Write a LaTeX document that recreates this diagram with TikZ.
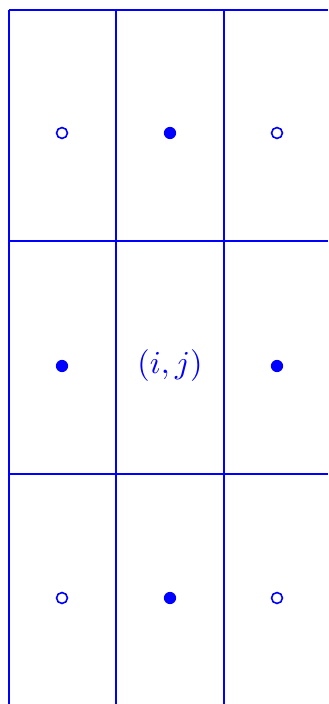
\documentclass[tikz,border=0pt]{standalone}
\usepackage{tikz}
\tikzset{
  gridline/.style={blue, line width=0.8pt},
  filleddot/.style={circle, fill=blue, inner sep=0pt, minimum size=0.135cm},
  opendot/.style={circle, draw=blue, line width=0.5pt, fill=white, inner sep=0pt, minimum size=0.12cm}
}

\begin{document}
\begin{tikzpicture}[x=0.011cm, y=-0.011cm]
    \useasboundingbox (0,0) rectangle (328,704);

    % grid (clipped at right and bottom)
    \foreach \gx in {9,116,224}{
        \draw[gridline] (\gx,10) -- (\gx,704);
    }
    \foreach \gy in {10,241,474}{
        \draw[gridline] (9,\gy) -- (328,\gy);
    }

    % neighbour points
    \node[opendot]   (nw) at (62,133)  {};
    \node[filleddot] (n)  at (170,133) {};
    \node[opendot]   (ne) at (277,133) {};
    \node[filleddot] (w)  at (62,366)  {};
    \node[filleddot] (e)  at (277,366) {};
    \node[opendot]   (sw) at (62,598)  {};
    \node[filleddot] (s)  at (170,598) {};
    \node[opendot]   (se) at (277,598) {};

    % centre cell
    \node[text=blue] (ij) at (170,366) {$(i,j)$};
\end{tikzpicture}
\end{document}
